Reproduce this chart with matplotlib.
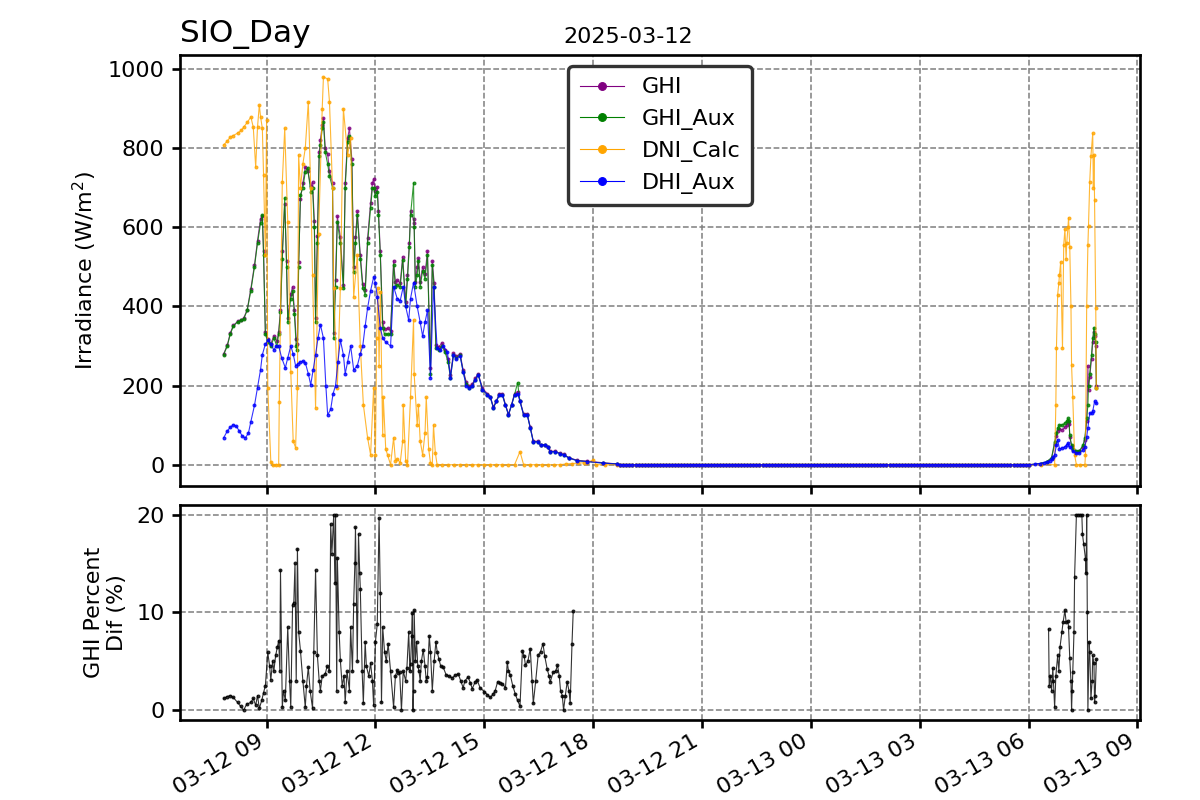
import numpy as np
import pandas as pd
import matplotlib
matplotlib.use("Agg")
import matplotlib.pyplot as plt
import matplotlib.dates as mdates

# ---- data (times are local HH:MM) ----
# GHI / GHI_Aux, 2025-03-12 daytime
ghi_t12 = ["07:49", "07:55", "08:00", "08:05", "08:12", "08:18", "08:22", "08:28", "08:34", "08:40",
           "08:45", "08:50", "08:53", "08:55", "08:58", "09:02", "09:07", "09:12", "09:17", "09:20",
           "09:23", "09:26", "09:30", "09:33", "09:35", "09:40", "09:43", "09:46", "09:49", "09:51",
           "09:53", "09:56", "10:00", "10:04", "10:08", "10:13", "10:16", "10:19", "10:21", "10:24",
           "10:27", "10:29", "10:32", "10:34", "10:37", "10:41", "10:44", "10:49", "10:51", "10:54",
           "10:57", "11:02", "11:07", "11:10", "11:14", "11:17", "11:21", "11:24", "11:27", "11:30",
           "11:35", "11:39", "11:43", "11:47", "11:52", "11:55", "11:57", "12:00", "12:03", "12:05",
           "12:08", "12:12", "12:15", "12:20", "12:25", "12:30", "12:33", "12:36", "12:41", "12:45",
           "12:50", "12:53", "12:56", "12:58", "13:03", "13:04", "13:06", "13:09", "13:11", "13:14",
           "13:18", "13:22", "13:26", "13:31", "13:34", "13:37", "13:40", "13:45", "13:50", "13:55",
           "14:00", "14:04", "14:09", "14:14", "14:20", "14:25", "14:30", "14:35", "14:40", "14:45",
           "14:50", "14:57", "15:05", "15:10", "15:15", "15:20", "15:25", "15:30", "15:35", "15:40",
           "15:45", "15:50", "15:55", "15:59", "16:05", "16:11", "16:16", "16:21", "16:28", "16:33",
           "16:40", "16:45", "16:49", "16:57", "17:05", "17:11", "17:20", "17:34", "17:50", "18:17",
           "18:40"]
ghi_aux12 = [278, 300, 330, 350, 361, 365, 368, 390, 440, 500,
             560, 610, 631, 530, 330, 310, 300, 320, 300, 330,
             386, 520, 674, 500, 361, 420, 440, 380, 300, 290,
             500, 682, 700, 740, 750, 690, 700, 600, 360, 560,
             780, 808, 850, 866, 790, 760, 730, 700, 320, 450,
             614, 560, 447, 700, 816, 830, 760, 487, 560, 631,
             520, 447, 430, 560, 650, 700, 700, 680, 690, 631,
             530, 346, 330, 330, 330, 505, 450, 455, 450, 518,
             400, 470, 550, 630, 712, 600, 450, 480, 515, 450,
             490, 470, 530, 230, 505, 450, 295, 290, 300, 285,
             260, 220, 277, 270, 277, 235, 205, 195, 200, 215,
             227, 190, 177, 170, 144, 160, 177, 177, 150, 126,
             150, 177, 207, 160, 126, 126, 93, 58, 58, 50,
             50, 45, 33, 33, 28, 25, 17, 10, 8, 4,
             2]
ghi12 = [280, 302, 333, 352, 362, 366, 370, 392, 445, 505,
         566, 622, 628, 540, 335, 318, 306, 325, 312, 336,
         392, 540, 660, 515, 372, 432, 450, 392, 318, 305,
         512, 672, 712, 752, 742, 705, 715, 615, 372, 578,
         790, 820, 858, 876, 800, 785, 742, 712, 332, 468,
         628, 575, 455, 712, 825, 850, 772, 500, 575, 640,
         530, 458, 442, 572, 662, 712, 722, 692, 702, 642,
         540, 360, 342, 345, 338, 515, 462, 466, 460, 525,
         412, 480, 560, 640, 620, 612, 462, 500, 522, 462,
         500, 482, 540, 245, 515, 460, 302, 298, 308, 290,
         268, 228, 282, 274, 280, 240, 210, 198, 203, 218,
         230, 193, 180, 172, 146, 162, 180, 180, 152, 128,
         152, 180, 185, 162, 128, 128, 95, 60, 59, 51,
         51, 46, 34, 34, 29, 26, 18, 11, 9, 5,
         2]

# DHI_Aux, 2025-03-12 daytime
dhi_t12 = ["07:49", "07:55", "08:00", "08:05", "08:10", "08:15", "08:20", "08:25", "08:30", "08:34",
           "08:40", "08:45", "08:50", "08:53", "08:58", "09:03", "09:07", "09:12", "09:16", "09:20",
           "09:25", "09:31", "09:35", "09:40", "09:44", "09:48", "09:52", "09:56", "10:00", "10:04",
           "10:09", "10:13", "10:17", "10:21", "10:25", "10:29", "10:34", "10:38", "10:41", "10:46",
           "10:50", "10:54", "10:58", "11:02", "11:07", "11:10", "11:14", "11:19", "11:24", "11:30",
           "11:35", "11:39", "11:43", "11:47", "11:52", "11:57", "12:00", "12:03", "12:08", "12:12",
           "12:17", "12:25", "12:30", "12:36", "12:41", "12:46", "12:50", "12:55", "12:58", "13:03",
           "13:09", "13:14", "13:18", "13:22", "13:26", "13:31", "13:36", "13:42", "13:47", "13:52",
           "13:59", "14:04", "14:09", "14:14", "14:20", "14:25", "14:30", "14:35", "14:40", "14:45",
           "14:50", "14:57", "15:05", "15:10", "15:15", "15:20", "15:25", "15:30", "15:35", "15:40",
           "15:45", "15:50", "15:55", "15:59", "16:05", "16:11", "16:16", "16:21", "16:28", "16:33",
           "16:40", "16:45", "16:49", "16:57", "17:05", "17:11", "17:20", "17:34", "17:50", "18:17",
           "18:40"]
dhi12 = [68, 85, 95, 101, 97, 85, 72, 68, 80, 109,
         150, 195, 240, 278, 305, 315, 305, 290, 300, 300,
         270, 245, 270, 300, 280, 250, 255, 260, 262, 258,
         230, 202, 240, 278, 320, 354, 320, 200, 126, 140,
         180, 200, 260, 315, 278, 230, 260, 300, 240, 250,
         280, 300, 350, 396, 440, 474, 460, 424, 346, 320,
         310, 300, 450, 420, 415, 450, 400, 365, 420, 460,
         400, 360, 325, 360, 390, 220, 450, 295, 290, 300,
         285, 220, 277, 268, 275, 235, 200, 195, 200, 215,
         227, 190, 177, 170, 144, 160, 177, 175, 150, 126,
         150, 177, 180, 160, 126, 126, 93, 58, 58, 50,
         50, 45, 33, 33, 28, 25, 17, 10, 8, 4,
         2]

# DNI_Calc, 2025-03-12 daytime
dni_t12 = ["07:49", "07:55", "08:00", "08:05", "08:12", "08:18", "08:22", "08:28", "08:34", "08:38",
           "08:42", "08:45", "08:48", "08:50", "08:53", "08:55", "08:58", "09:00", "09:02", "09:07",
           "09:10", "09:15", "09:20", "09:21", "09:26", "09:30", "09:35", "09:40", "09:44", "09:48",
           "09:51", "09:53", "09:56", "10:00", "10:04", "10:09", "10:13", "10:16", "10:21", "10:26",
           "10:32", "10:34", "10:41", "10:44", "10:49", "10:51", "10:57", "11:02", "11:07", "11:14",
           "11:19", "11:24", "11:30", "11:35", "11:40", "11:47", "11:52", "11:57", "12:00", "12:02",
           "12:04", "12:06", "12:08", "12:12", "12:13", "12:17", "12:20", "12:25", "12:30", "12:33",
           "12:36", "12:41", "12:45", "12:46", "12:50", "12:53", "12:58", "13:03", "13:04", "13:09",
           "13:11", "13:14", "13:18", "13:22", "13:24", "13:28", "13:31", "13:34", "13:36", "13:39",
           "13:42", "13:50", "14:00", "14:10", "14:20", "14:30", "14:40", "14:50", "15:00", "15:10",
           "15:20", "15:30", "15:40", "15:50", "15:59", "16:05", "16:15", "16:25", "16:35", "16:45",
           "16:55", "17:05", "17:15", "17:25", "17:35", "17:45", "17:50", "18:00", "18:05", "18:20",
           "18:40"]
dni12 = [808, 818, 828, 832, 838, 845, 853, 865, 879, 853,
         752, 853, 909, 880, 850, 732, 530, 870, 195, 8,
         0, 0, 0, 159, 714, 850, 614, 235, 60, 43,
         195, 783, 700, 760, 800, 917, 700, 480, 144, 584,
         900, 980, 975, 917, 700, 447, 195, 447, 900, 783,
         825, 424, 530, 300, 152, 68, 25, 195, 25, 320,
         447, 250, 437, 76, 170, 40, 25, 0, 68, 10,
         15, 5, 60, 152, 10, 0, 170, 366, 230, 100,
         150, 60, 25, 80, 170, 40, 5, 0, 100, 30,
         0, 0, 0, 0, 0, 0, 0, 0, 0, 0,
         0, 0, 0, 0, 33, 0, 0, 0, 0, 0,
         0, 0, 2, 3, 4, 5, 5, 12, 0, 0,
         0]

# 2025-03-13 pre-dawn / morning
ghi_t13 = ["06:00", "06:20", "06:30", "06:38", "06:43", "06:46", "06:48", "06:51", "06:55", "07:00",
           "07:03", "07:05", "07:07", "07:08", "07:11", "07:13", "07:19", "07:24", "07:30", "07:33",
           "07:36", "07:38", "07:39", "07:41", "07:44", "07:46", "07:48", "07:49", "07:51", "07:52"]
ghi_aux13 = [0, 3, 8, 18, 58, 80, 93, 100, 100, 105,
             110, 117, 110, 74, 50, 40, 35, 35, 50, 68,
             117, 150, 200, 230, 278, 320, 346, 330, 310, 195]
ghi13 = [0, 3, 7, 17, 52, 72, 85, 90, 88, 95,
         100, 108, 104, 70, 47, 38, 33, 34, 46, 62,
         110, 250, 190, 222, 268, 310, 336, 325, 300, 200]

dhi_t13 = ["06:00", "06:10", "06:18", "06:25", "06:30", "06:35", "06:38", "06:41", "06:43", "06:46",
           "06:48", "06:51", "06:55", "07:00", "07:03", "07:05", "07:08", "07:13", "07:18", "07:24",
           "07:30", "07:33", "07:36", "07:38", "07:41", "07:44", "07:46", "07:49", "07:52"]
dhi13 = [0, 1, 3, 5, 7, 10, 15, 20, 25, 50,
         63, 40, 42, 45, 50, 55, 45, 35, 30, 30,
         38, 45, 70, 93, 130, 130, 135, 160, 155]

dni_t13 = ["06:00", "06:20", "06:43", "06:45", "06:46", "06:48", "06:50", "06:51", "06:53", "06:56",
           "06:58", "07:00", "07:02", "07:03", "07:05", "07:06", "07:08", "07:10", "07:11", "07:13",
           "07:16", "07:19", "07:25", "07:33", "07:34", "07:36", "07:38", "07:39", "07:41", "07:43",
           "07:46", "07:47", "07:48", "07:49", "07:51", "07:52"]
dni13 = [0, 0, 0, 152, 295, 430, 460, 480, 512, 295,
         555, 595, 520, 560, 600, 624, 550, 400, 252, 170,
         25, 0, 0, 0, 25, 400, 555, 604, 714, 780,
         838, 700, 783, 670, 396, 195]

# GHI percent difference
pct_t12 = ["07:49", "07:55", "08:00", "08:05", "08:12", "08:17", "08:22", "08:27", "08:34", "08:38",
           "08:42", "08:45", "08:48", "08:52", "08:55", "08:58", "09:02", "09:05", "09:07", "09:10",
           "09:12", "09:15", "09:18", "09:20", "09:22", "09:23", "09:26", "09:28", "09:31", "09:35",
           "09:38", "09:40", "09:43", "09:45", "09:47", "09:49", "09:51", "09:53", "09:56", "10:00",
           "10:04", "10:06", "10:09", "10:12", "10:16", "10:18", "10:21", "10:24", "10:27", "10:29",
           "10:32", "10:37", "10:40", "10:44", "10:46", "10:48", "10:51", "10:53", "10:54", "10:56",
           "10:57", "11:00", "11:02", "11:05", "11:08", "11:10", "11:13", "11:17", "11:19", "11:22",
           "11:24", "11:26", "11:27", "11:30", "11:32", "11:34", "11:35", "11:38", "11:40", "11:43",
           "11:45", "11:49", "11:52", "11:55", "11:57", "12:00", "12:03", "12:06", "12:08", "12:10",
           "12:12", "12:15", "12:18", "12:21", "12:25", "12:30", "12:33", "12:36", "12:38", "12:40",
           "12:43", "12:46", "12:50", "12:52", "12:55", "12:57", "12:58", "13:00", "13:01", "13:02",
           "13:03", "13:04", "13:06", "13:08", "13:10", "13:12", "13:14", "13:16", "13:19", "13:22",
           "13:24", "13:26", "13:29", "13:31", "13:34", "13:37", "13:40", "13:42", "13:45", "13:48",
           "13:52", "13:57", "14:02", "14:07", "14:12", "14:17", "14:21", "14:25", "14:28", "14:33",
           "14:37", "14:40", "14:45", "14:48", "14:53", "15:00", "15:05", "15:10", "15:15", "15:18",
           "15:22", "15:26", "15:30", "15:35", "15:38", "15:40", "15:43", "15:47", "15:51", "15:55",
           "15:59", "16:03", "16:06", "16:08", "16:12", "16:16", "16:19", "16:21", "16:25", "16:29",
           "16:33", "16:37", "16:40", "16:44", "16:47", "16:49", "16:54", "16:58", "17:01", "17:04",
           "17:06", "17:09", "17:11", "17:14", "17:17", "17:20", "17:22", "17:25", "17:27"]
pct12 = [1.2, 1.4, 1.5, 1.3, 0.8, 0.4, 0.0, 0.6, 0.8, 1.2,
         0.5, 1.5, 0.2, 1.0, 1.8, 2.5, 5.9, 4.5, 3.1, 5.0,
         4.0, 5.6, 6.5, 7.1, 4.0, 14.3, 0.3, 2.0, 1.0, 8.5,
         3.0, 0.3, 10.8, 11.0, 15.0, 3.0, 16.5, 8.0, 6.1, 3.0,
         0.3, 2.5, 4.4, 2.0, 0.2, 6.0, 14.3, 5.6, 3.0, 2.0,
         3.5, 3.7, 4.5, 4.0, 19.0, 16.0, 20.0, 13.0, 20.0, 2.0,
         15.6, 8.0, 5.1, 2.5, 3.5, 0.8, 4.0, 2.0, 8.5, 4.0,
         10.9, 15.0, 18.7, 5.0, 18.0, 14.0, 12.4, 4.0, 0.7, 7.0,
         4.5, 3.5, 4.8, 3.0, 0.5, 7.0, 8.8, 19.6, 12.0, 0.8,
         8.5, 6.0, 5.0, 6.8, 4.0, 0.3, 3.5, 4.1, 3.8, 3.9,
         0.0, 4.0, 3.0, 4.3, 8.0, 4.0, 4.7, 7.6, 9.9, 0.0,
         2.0, 10.2, 5.0, 7.0, 4.5, 4.0, 3.0, 5.0, 6.2, 4.5,
         3.0, 3.4, 7.6, 6.0, 2.0, 5.0, 7.0, 6.0, 5.2, 4.5,
         4.4, 3.6, 3.5, 3.3, 3.6, 3.7, 3.0, 2.3, 3.0, 3.4,
         2.8, 2.2, 2.9, 3.1, 2.3, 1.9, 1.6, 1.3, 1.7, 2.0,
         2.9, 2.8, 2.7, 2.3, 4.9, 4.0, 3.6, 2.5, 1.7, 1.0,
         0.4, 6.1, 5.5, 4.6, 5.0, 6.3, 3.0, 0.7, 3.0, 5.6,
         6.0, 6.8, 5.5, 4.2, 3.5, 2.9, 3.9, 4.0, 4.6, 3.5,
         2.0, 1.5, 0.0, 1.5, 2.9, 2.0, 0.7, 6.8, 10.1]

pct_t13 = ["06:33", "06:34", "06:36", "06:38", "06:40", "06:41", "06:43", "06:45", "06:48", "06:50",
           "06:52", "06:55", "06:57", "07:00", "07:02", "07:05", "07:06", "07:08", "07:10", "07:11",
           "07:12", "07:13", "07:15", "07:16", "07:19", "07:22", "07:25", "07:28", "07:29", "07:31",
           "07:34", "07:35", "07:36", "07:37", "07:38", "07:40", "07:41", "07:43", "07:45", "07:46",
           "07:48", "07:49", "07:50", "07:52"]
pct13 = [8.3, 2.5, 3.5, 2.0, 4.3, 3.0, 0.3, 3.5, 5.6, 4.0,
         6.5, 8.0, 9.0, 10.2, 9.0, 9.1, 8.5, 5.3, 3.0, 0.0,
         2.0, 3.9, 8.0, 13.6, 20.0, 20.0, 20.0, 20.0, 18.0, 17.0,
         15.5, 14.0, 20.0, 10.0, 0.0, 7.0, 6.0, 1.2, 3.0, 5.6,
         4.8, 0.8, 1.5, 5.2]

# overnight: every series reads zero
night = pd.date_range("2025-03-12 18:45", "2025-03-13 05:55", freq="5min")
night_vals = np.zeros(len(night))


def stamps(day, hhmm):
    return pd.to_datetime([f"2025-03-{day} {s}" for s in hhmm])


def series(t12, v12, t13, v13):
    t = stamps(12, t12).append(night).append(stamps(13, t13))
    v = np.concatenate([v12, night_vals, v13])
    return t, v


t_ghi, v_ghi = series(ghi_t12, ghi12, ghi_t13, ghi13)
t_aux, v_aux = series(ghi_t12, ghi_aux12, ghi_t13, ghi_aux13)
t_dni, v_dni = series(dni_t12, dni12, dni_t13, dni13)
t_dhi, v_dhi = series(dhi_t12, dhi12, dhi_t13, dhi13)

# ---- figure ----
plt.rcParams['font.size'] = 10
fig, axs = plt.subplots(2, 1, figsize=(7.5, 5), dpi=160, sharex=True,
                        gridspec_kw={'height_ratios': [2, 1]})
plt.subplots_adjust(left=0.15, right=0.95, top=0.931, bottom=0.1, hspace=0.059)

style = dict(marker='o', ms=1.3, mew=0.5, lw=0.5, alpha=0.8)
ax = axs[0]
ax.plot(t_ghi, v_ghi, color='purple', label='GHI', **style)
ax.plot(t_aux, v_aux, color='green', label='GHI_Aux', **style)
ax.plot(t_dni, v_dni, color='orange', label='DNI_Calc', **style)
ax.plot(t_dhi, v_dhi, color='blue', label='DHI_Aux', **style)
ax.set_ylim(-53, 1035)
ax.set_ylabel('Irradiance (W/m$^2$)')
ax.set_title('SIO_Day', loc='left', fontsize=14)
ax.grid(True, linestyle='--', color='gray', lw=0.7)
leg = ax.legend(loc='upper center', framealpha=1, fancybox=True, borderpad=0.5)
leg.get_frame().set_edgecolor('0.2')
leg.get_frame().set_linewidth(1.5)
for h in leg.legend_handles:
    h.set_markersize(3.5)
    h.set_alpha(1)

fig.text(628 / 1200, 1 - 43 / 800, '2025-03-12', ha='center', va='baseline', fontsize=10)

ax2 = axs[1]
ax2.plot(stamps(12, pct_t12), pct12, color='black', **style)
ax2.plot(stamps(13, pct_t13), pct13, color='black', **style)
ax2.set_ylabel('GHI Percent\nDif (%)')
ax2.grid(True, linestyle='--', color='gray', lw=0.7)
ax2.set_yticks([0, 10, 20])

ax2.xaxis.set_major_locator(mdates.HourLocator(byhour=range(0, 24, 3)))
ax2.xaxis.set_major_formatter(mdates.DateFormatter('%m-%d %H'))
for label in ax2.get_xticklabels():
    label.set_rotation(30)
    label.set_ha('right')

for a in axs:
    for s in a.spines.values():
        s.set_linewidth(1.2)
    a.tick_params(width=1.2, length=3.5)
ax2.tick_params(axis='x', pad=1.5)

fig.savefig('out.png', dpi=160)
